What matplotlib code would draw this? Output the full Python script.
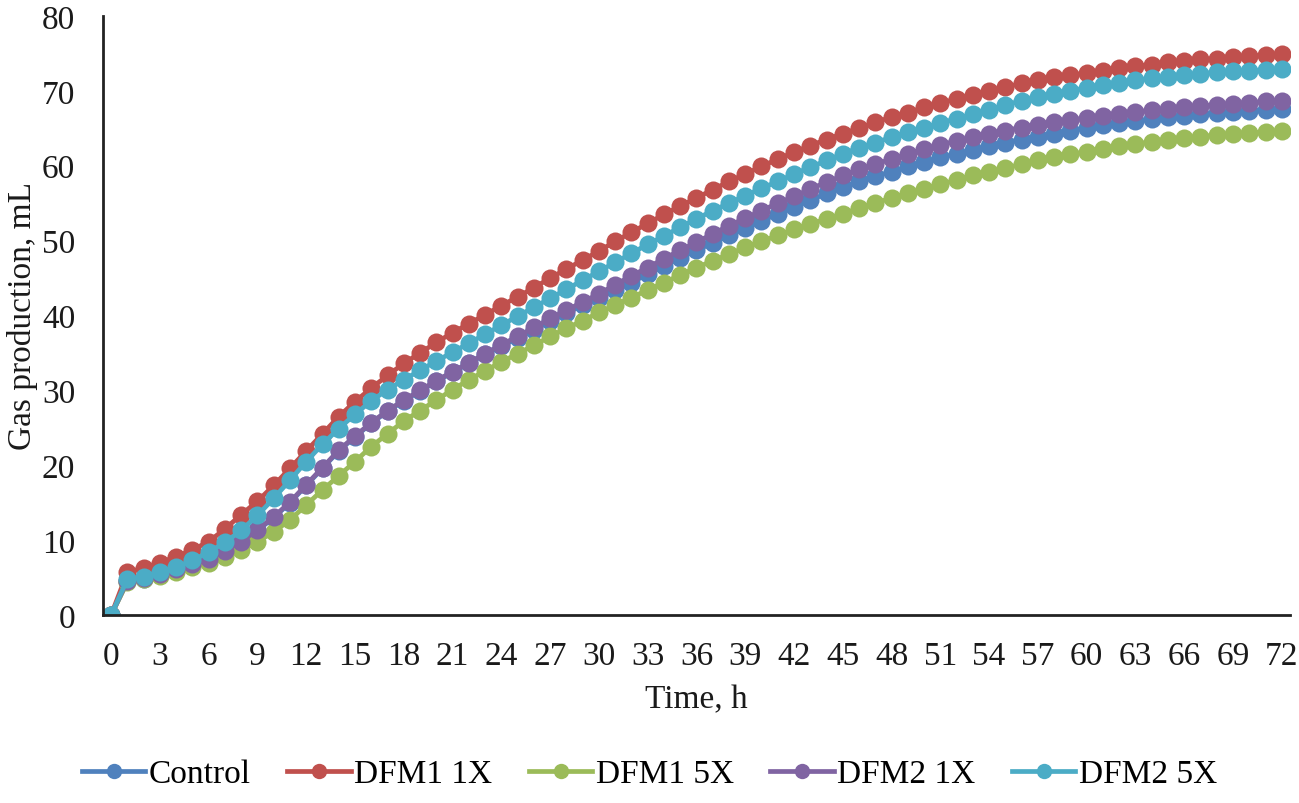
import matplotlib
matplotlib.use("Agg")
import matplotlib.pyplot as plt

plt.rcParams['font.family'] = ['Liberation Serif', 'DejaVu Serif']

hours = list(range(0, 73))

control = [0, 4.5, 4.8, 5.4, 6.0, 6.7, 7.4, 8.5, 9.7, 11.3, 13.0, 15.0, 17.3, 19.6, 21.9,
           23.8, 25.6, 27.2, 28.6, 29.9, 31.2, 32.4, 33.6, 34.8, 35.9, 37.0, 38.1, 39.2,
           40.3, 41.4, 42.4, 43.4, 44.4, 45.5, 46.6, 47.7, 48.7, 49.7, 50.7, 51.7, 52.6,
           53.6, 54.5, 55.4, 56.3, 57.1, 57.9, 58.6, 59.2, 59.9, 60.5, 61.1, 61.6, 62.1,
           62.6, 63.1, 63.5, 63.9, 64.3, 64.7, 65.1, 65.4, 65.7, 66.0, 66.2, 66.5, 66.7,
           66.9, 67.0, 67.2, 67.3, 67.5, 67.6]

dfm1_1x = [0, 5.7, 6.3, 7.0, 7.8, 8.7, 9.8, 11.5, 13.4, 15.2, 17.3, 19.6, 21.9, 24.2, 26.5,
           28.5, 30.3, 32.0, 33.6, 35.0, 36.4, 37.7, 38.9, 40.1, 41.3, 42.5, 43.7, 45.0,
           46.2, 47.4, 48.6, 49.9, 51.1, 52.3, 53.5, 54.6, 55.7, 56.8, 57.9, 58.9, 59.9,
           60.9, 61.8, 62.7, 63.5, 64.3, 65.0, 65.8, 66.5, 67.1, 67.8, 68.4, 68.9, 69.5,
           70.0, 70.5, 71.0, 71.4, 71.8, 72.1, 72.4, 72.7, 73.0, 73.3, 73.5, 73.8, 74.0,
           74.2, 74.3, 74.5, 74.6, 74.8, 74.9]

dfm1_5x = [0, 4.4, 4.8, 5.2, 5.7, 6.4, 7.0, 7.8, 8.7, 9.8, 11.1, 12.7, 14.7, 16.7, 18.6,
           20.5, 22.5, 24.2, 25.9, 27.3, 28.7, 30.1, 31.4, 32.6, 33.8, 34.9, 36.0, 37.2,
           38.3, 39.3, 40.4, 41.4, 42.4, 43.4, 44.4, 45.4, 46.4, 47.3, 48.2, 49.1, 49.9,
           50.7, 51.5, 52.2, 52.9, 53.6, 54.3, 55.0, 55.7, 56.3, 56.9, 57.5, 58.1, 58.7,
           59.2, 59.7, 60.2, 60.7, 61.1, 61.5, 61.9, 62.3, 62.6, 62.9, 63.2, 63.5, 63.7,
           63.9, 64.1, 64.3, 64.4, 64.5, 64.6]

dfm2_1x = [0, 4.6, 4.9, 5.5, 6.1, 6.8, 7.5, 8.6, 9.8, 11.4, 13.1, 15.1, 17.4, 19.7, 22.0,
           23.9, 25.7, 27.3, 28.7, 30.0, 31.3, 32.5, 33.7, 34.9, 36.1, 37.2, 38.4, 39.6,
           40.7, 41.8, 42.9, 44.1, 45.3, 46.4, 47.6, 48.7, 49.8, 50.9, 52.0, 53.0, 54.0,
           55.0, 55.9, 56.9, 57.8, 58.7, 59.5, 60.2, 60.9, 61.6, 62.2, 62.8, 63.3, 63.8,
           64.2, 64.7, 65.1, 65.5, 65.8, 66.1, 66.4, 66.7, 66.9, 67.2, 67.4, 67.6, 67.8,
           68.0, 68.1, 68.3, 68.4, 68.6, 68.7]

dfm2_5x = [0, 4.8, 5.1, 5.8, 6.4, 7.3, 8.4, 9.7, 11.3, 13.3, 15.6, 18.0, 20.5, 22.8, 24.9,
           26.8, 28.6, 30.1, 31.4, 32.7, 33.9, 35.1, 36.3, 37.5, 38.7, 39.9, 41.1, 42.3,
           43.5, 44.7, 45.9, 47.1, 48.3, 49.5, 50.6, 51.8, 52.9, 54.0, 55.0, 56.0, 57.0,
           57.9, 58.9, 59.8, 60.7, 61.6, 62.4, 63.1, 63.8, 64.5, 65.1, 65.7, 66.3, 66.9,
           67.5, 68.1, 68.7, 69.2, 69.6, 70.0, 70.4, 70.8, 71.1, 71.4, 71.7, 71.9, 72.1,
           72.3, 72.5, 72.6, 72.7, 72.8, 72.9]

names = ['Control', 'DFM1 1X', 'DFM1 5X', 'DFM2 1X', 'DFM2 5X']
colors = ['#4F81BD', '#C0504D', '#9BBB59', '#8064A2', '#4BACC6']
series = [control, dfm1_1x, dfm1_5x, dfm2_1x, dfm2_5x]

fig = plt.figure(figsize=(12.99, 8.04), dpi=100)
ax = fig.add_axes([0.0793, 0.2338, 0.9137, 0.7451])

for name, col, vals in zip(names, colors, series):
    ax.plot(hours, vals, color=col, linewidth=3.4, marker='o', markersize=13,
            markeredgewidth=0, label=name)

ax.set_xlim(-0.5, 72.5)
ax.set_ylim(0, 80)
ax.set_xticks(range(0, 73, 3))
ax.set_yticks(range(0, 81, 10))
ax.tick_params(axis='both', length=0, labelsize=24, colors='#1a1a1a')
ax.tick_params(axis='x', pad=18)
ax.tick_params(axis='y', pad=20)

for side in ['top', 'right']:
    ax.spines[side].set_visible(False)
for side in ['left', 'bottom']:
    ax.spines[side].set_linewidth(2)
    ax.spines[side].set_color('#222222')

ax.set_xlabel('Time, h', fontsize=24, color='#1a1a1a')
ax.set_ylabel('Gas production, mL', fontsize=24, color='#1a1a1a')
ax.xaxis.set_label_coords(0.5, -0.14)
ax.xaxis.label.set_va('center')
ax.yaxis.set_label_coords(-0.068, 0.5)
ax.yaxis.label.set_va('center')

fig.legend(loc='center', bbox_to_anchor=(0.5, 0.036), ncol=5, frameon=False,
           fontsize=24, handlelength=1.9, handletextpad=0.1, columnspacing=1.1,
           markerscale=0.85)

fig.savefig('out.png', dpi=100)
